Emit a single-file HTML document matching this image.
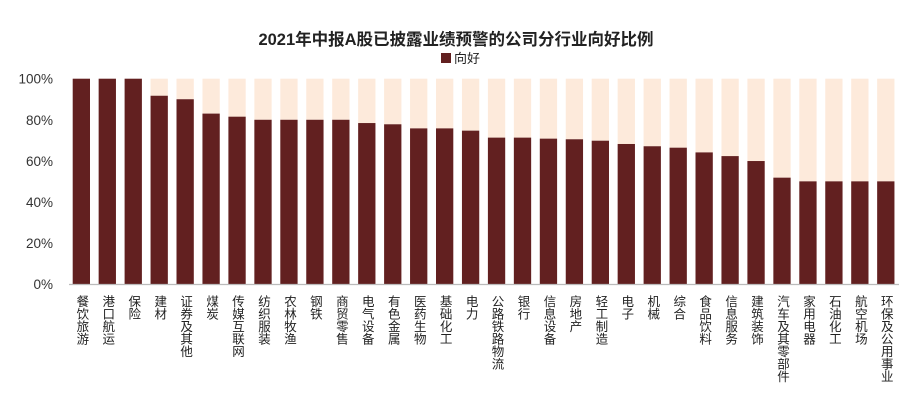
<!DOCTYPE html>
<html><head><meta charset="utf-8"><style>
body{margin:0;background:#fff;}
svg text{font-family:"Liberation Sans","Noto Sans CJK SC",sans-serif;}
</style></head><body>
<svg id="chart" width="917" height="413" xmlns="http://www.w3.org/2000/svg">
<text x="456" y="45" text-anchor="middle" font-size="16.5" font-weight="bold" fill="#222">2021年中报A股已披露业绩预警的公司分行业向好比例</text>
<g>
<rect x="441" y="53" width="10" height="10" fill="#622020"/>
<text x="454" y="63" font-size="13" fill="#222">向好</text>
</g>
<g id="yaxis"></g>
<g id="bars"></g>
<line x1="69" y1="284.5" x2="899" y2="284.5" stroke="#bbb" stroke-width="1.2"/>
<g id="xlabels"></g>
</svg>
<script>
const categories=["餐饮旅游","港口航运","保险","建材","证券及其他","煤炭","传媒互联网","纺织服装","农林牧渔","钢铁","商贸零售","电气设备","有色金属","医药生物","基础化工","电力","公路铁路物流","银行","信息设备","房地产","轻工制造","电子","机械","综合","食品饮料","信息服务","建筑装饰","汽车及其零部件","家用电器","石油化工","航空机场","环保及公用事业"];
const values=[100,100,100,91.7,90,83,81.5,80,80,80,80,78.4,77.8,75.8,75.8,74.7,71.3,71.3,70.8,70.5,69.8,68.2,67.1,66.4,64.1,62.3,59.9,51.8,50,50,50,50];
const yTicks=[0,20,40,60,80,100];
const NS="http://www.w3.org/2000/svg";
const y0=284,y100=78.7;
function yScale(v){return y0-(y0-y100)*v/100;}
const x0=72.7,step=25.95,bw=17.3;
function xScale(i){return x0+i*step;}
const ya=document.getElementById('yaxis');
yTicks.forEach(t=>{
 const tx=document.createElementNS(NS,'text');
 
 
 tx.setAttribute('x',53);tx.setAttribute('y',yScale(t)+5);
 tx.setAttribute('text-anchor','end');tx.setAttribute('font-size','13.5');tx.setAttribute('fill','#333');
 tx.textContent=t+'%';ya.appendChild(tx);
});
const bg=document.getElementById('bars');
const xl=document.getElementById('xlabels');
categories.forEach((c,i)=>{
 const x=xScale(i),v=values[i];
 const r1=document.createElementNS(NS,'rect');
 
 
 r1.setAttribute('x',x);r1.setAttribute('y',yScale(100));r1.setAttribute('width',bw);
 r1.setAttribute('height',yScale(v)-yScale(100));r1.setAttribute('fill','#fdeadb');
 bg.appendChild(r1);
 const r=document.createElementNS(NS,'rect');
 
 
 r.setAttribute('x',x);r.setAttribute('y',yScale(v));r.setAttribute('width',bw);
 r.setAttribute('height',y0-yScale(v));r.setAttribute('fill','#622020');
 bg.appendChild(r);
 const t=document.createElementNS(NS,'text');
 
 
 t.setAttribute('x',x+bw/2);t.setAttribute('y',295);
 t.setAttribute('font-size','12.5');t.setAttribute('fill','#222');
 t.setAttribute('style','writing-mode:vertical-rl;glyph-orientation-vertical:0;');
 t.textContent=c;xl.appendChild(t);
});
</script>
</body></html>
